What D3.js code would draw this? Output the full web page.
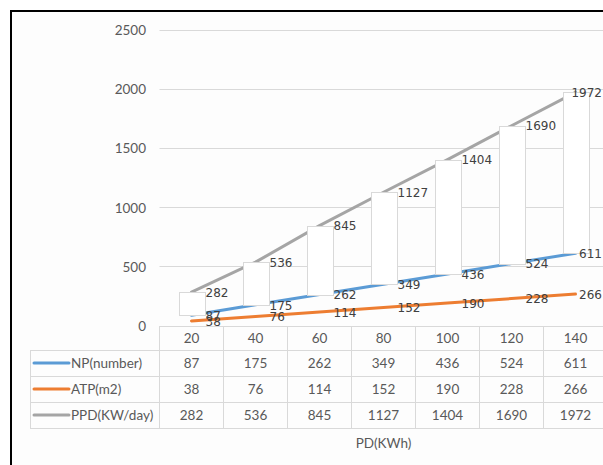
<!DOCTYPE html>
<html>
<head>
<meta charset="utf-8">
<script src="https://cdn.jsdelivr.net/npm/d3@7"></script>
<style>
  html, body { margin: 0; padding: 0; background: #ffffff; }
  svg { display: block; }
</style>
</head>
<body>
<svg id="chart" width="603" height="465"></svg>
<script>
// Power demand (kWh) categories and the three measured series
const categories = [20, 40, 60, 80, 100, 120, 140];
const npValues  = [87, 175, 262, 349, 436, 524, 611];
const atpValues = [38, 76, 114, 152, 190, 228, 266];
const ppdValues = [282, 536, 845, 1127, 1404, 1690, 1972];
const yTicks = [0, 500, 1000, 1500, 2000, 2500];
const seriesNames = ["NP(number)", "ATP(m2)", "PPD(KW/day)"];
const xTitle = "PD(KWh)";

const series = [
  { name: seriesNames[0], values: npValues,  color: "#5B9BD5" },
  { name: seriesNames[1], values: atpValues, color: "#ED7D31" },
  { name: seriesNames[2], values: ppdValues, color: "#A5A5A5" }
];

const W = 603, H = 465;
const svg = d3.select("#chart");
const axisFont = "Lato, 'Open Sans', sans-serif";
const axisSize = 13.5;
const labelFont = "'DejaVu Sans', Verdana, sans-serif";
const textGray = "#595959";
const lineGray = "#D9D9D9";

// chart area with a dark frame on the left and top
svg.append("rect").attr("x", 11).attr("y", 11).attr("width", W).attr("height", H)
  .attr("fill", "#fdfdfd");
svg.append("line").attr("x1", 11).attr("x2", W).attr("y1", 11).attr("y2", 11)
  .attr("stroke", "#000").attr("stroke-width", 2);
svg.append("line").attr("x1", 11).attr("x2", 11).attr("y1", 10).attr("y2", H)
  .attr("stroke", "#000").attr("stroke-width", 2);

const plotLeft = 159.5, band = 64;
const x = d3.scaleBand().domain(categories)
  .range([plotLeft, plotLeft + band * categories.length]).padding(0);
const y = d3.scaleLinear().domain([0, 2500]).range([325.5, 30]);
const cx = d => x(d) + x.bandwidth() / 2;

// horizontal gridlines
svg.append("g").selectAll("line").data(yTicks.filter(t => t > 0)).join("line")
  .attr("x1", plotLeft).attr("x2", W)
  .attr("y1", d => Math.round(y(d)) + 0.5).attr("y2", d => Math.round(y(d)) + 0.5)
  .attr("stroke", lineGray).attr("stroke-width", 1);

// value axis labels
const yAxis = d3.axisLeft(y).tickValues(yTicks).tickFormat(d3.format("d"))
  .tickSize(0).tickPadding(0);
const yAxisG = svg.append("g").attr("transform", "translate(146,0)").call(yAxis);
yAxisG.select(".domain").remove();
yAxisG.selectAll("text")
  .attr("font-family", axisFont).attr("font-size", axisSize).attr("fill", textGray)
  .attr("dy", "0.35em");

// series lines
const line = d3.line().x((d, i) => cx(categories[i])).y(d => y(d));
svg.append("g").selectAll("path").data(series).join("path")
  .attr("d", s => line(s.values))
  .attr("fill", "none").attr("stroke", s => s.color)
  .attr("stroke-width", 3).attr("stroke-linecap", "round").attr("stroke-linejoin", "round");

// up/down bars between the first and last series
const barW = 26;
svg.append("g").selectAll("rect").data(categories).join("rect")
  .attr("x", d => Math.round(cx(d) - barW / 2) + 0.5)
  .attr("y", (d, i) => Math.round(y(ppdValues[i])) + 0.5)
  .attr("width", barW)
  .attr("height", (d, i) => Math.round(y(npValues[i])) - Math.round(y(ppdValues[i])))
  .attr("fill", "#ffffff").attr("stroke", lineGray).attr("stroke-width", 1);

// data labels, kept inside the chart's right edge
const labelG = svg.append("g");
series.forEach(s => {
  labelG.selectAll(null).data(s.values).join("text")
    .attr("font-family", labelFont).attr("font-size", 12).attr("fill", "#404040")
    .attr("dy", "0.35em")
    .attr("y", d => y(d) + 0.5)
    .text(d => d)
    .each(function (d, i) {
      const w = this.getComputedTextLength();
      let lx = cx(categories[i]) + 14;
      if (lx + w > W - 1) lx = W - 1 - w;
      d3.select(this).attr("x", lx);
    });
});

// data table beneath the plot
const tableTop = 326, rowH = [24, 26, 26, 26];
const rowY = [tableTop];
rowH.forEach((h, i) => rowY.push(rowY[i] + h));
const legendLeft = 30.5;
const tbl = svg.append("g").attr("shape-rendering", "crispEdges");
const hl = (x1, x2, yy) => tbl.append("line").attr("x1", x1).attr("x2", x2)
  .attr("y1", yy + 0.5).attr("y2", yy + 0.5).attr("stroke", lineGray);
hl(plotLeft, W, rowY[0]);
for (let r = 1; r < rowY.length; r++) hl(legendLeft, W, rowY[r]);
// vertical rules
const vx = [plotLeft].concat(categories.map(c => x(c) + band));
vx.forEach(v => tbl.append("line").attr("x1", v).attr("x2", v)
  .attr("y1", rowY[0]).attr("y2", rowY[4] + 0.5).attr("stroke", lineGray));
tbl.append("line").attr("x1", legendLeft).attr("x2", legendLeft)
  .attr("y1", rowY[1]).attr("y2", rowY[4] + 0.5).attr("stroke", lineGray);

const txt = svg.append("g").attr("font-family", axisFont).attr("font-size", axisSize)
  .attr("fill", textGray).attr("text-anchor", "middle");
// category header row
txt.selectAll(null).data(categories).join("text")
  .attr("x", d => cx(d)).attr("y", (rowY[0] + rowY[1]) / 2).attr("dy", "0.35em")
  .text(d => d);
// one row per series
series.forEach((s, r) => {
  const ym = (rowY[r + 1] + rowY[r + 2]) / 2;
  txt.selectAll(null).data(s.values).join("text")
    .attr("x", (d, i) => cx(categories[i])).attr("y", ym).attr("dy", "0.35em")
    .text(d => d);
  svg.append("line").attr("x1", 34).attr("x2", 69).attr("y1", ym).attr("y2", ym)
    .attr("stroke", s.color).attr("stroke-width", 3).attr("stroke-linecap", "round");
  svg.append("text").attr("x", 71).attr("y", ym).attr("dy", "0.35em")
    .attr("font-family", axisFont).attr("font-size", axisSize).attr("fill", textGray)
    .text(s.name);
});

// category axis title
svg.append("text").attr("x", plotLeft + band * categories.length / 2).attr("y", 443)
  .attr("dy", "0.35em").attr("text-anchor", "middle")
  .attr("font-family", axisFont).attr("font-size", axisSize).attr("fill", textGray)
  .text(xTitle);
</script>
</body>
</html>
